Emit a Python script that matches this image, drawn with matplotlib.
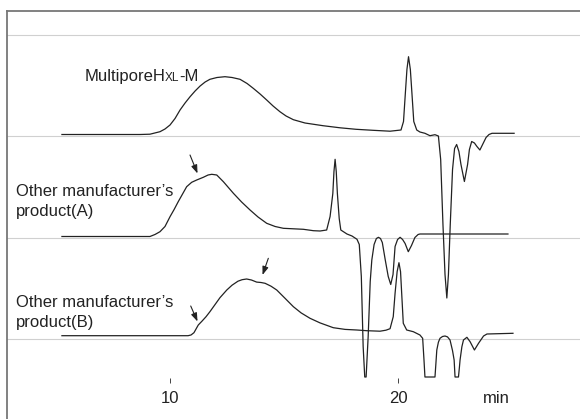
import numpy as np
import matplotlib
matplotlib.use('Agg')
import matplotlib.pyplot as plt

plt.rcParams['font.family'] = ['Liberation Sans', 'DejaVu Sans']

# retention time (min) and detector response (arbitrary units, baseline = 0)
t_hxl = [5.26, 8.68, 9.12, 9.56, 9.78, 10.00, 10.22, 10.44, 10.66, 10.88, 11.10, 11.32,
         11.54, 11.75, 12.06, 12.41, 12.72, 13.07, 13.38, 13.65, 13.95, 14.24, 14.52,
         14.82, 15.09, 15.41, 15.92, 16.71, 17.46, 18.16, 18.90, 19.65, 20.13, 20.24,
         20.32, 20.39, 20.46, 20.54, 20.61, 20.69, 20.82, 20.96, 21.18, 21.40, 21.62,
         21.77, 21.87, 21.97, 22.06, 22.14, 22.21, 22.29, 22.39, 22.48, 22.57, 22.67,
         22.76, 22.91, 23.05, 23.13, 23.23, 23.35, 23.46, 23.59, 23.73, 23.86, 23.99,
         24.12, 25.09]
y_hxl = [0, 0, 0.3, 2.8, 5.5, 9.5, 16, 24.5, 31.5, 37.8, 43.5, 48.5,
         52.5, 55.2, 57, 57.8, 57, 55.2, 51, 46.2, 40.5, 34.5, 28.5,
         22.8, 18.5, 14.8, 11.5, 8.8, 6.7, 5.2, 4.2, 3.3, 4.5, 13,
         41, 65, 77.8, 65, 41, 13, 4.5, 2.5, 1.2, -1.2, -0.2,
         -1.5, -25, -90, -140, -163.5, -140, -90, -35, -14, -10, -17,
         -30, -47, -30, -15, -7, -8.5, -12, -15.5, -9, -3, 0,
         1.2, 1.2]

t_a = [5.26, 8.82, 9.12, 9.34, 9.56, 9.78, 10.00, 10.18, 10.36, 10.55, 10.73, 10.95,
       11.17, 11.46, 11.67, 11.83, 12.05, 12.34, 12.78, 13.14, 13.51, 13.86, 14.24,
       14.61, 14.97, 15.85, 16.29, 16.58, 16.87, 17.02, 17.14, 17.19, 17.24, 17.29,
       17.34, 17.42, 17.49, 17.76, 17.98, 18.20, 18.30, 18.39, 18.47, 18.54, 18.60,
       18.69, 18.78, 18.85, 18.95, 19.05, 19.14, 19.23, 19.31, 19.44, 19.57, 19.68,
       19.78, 19.87, 19.98, 20.09, 20.20, 20.31, 20.45, 20.59, 20.74, 20.88, 20.96,
       24.82]
y_a = [0, 0, 0, 2, 4.8, 10, 19.8, 27, 34.8, 42.5, 49.8, 54.2,
       56.5, 59.2, 61.5, 62.2, 61.5, 54.8, 43.2, 34.5, 26.5, 19.5, 13.2,
       10, 8.2, 7.2, 5.8, 5.5, 6.5, 20, 43, 65, 77.2, 65,
       43, 18, 6.5, 2.5, 0.5, -2.8, -8, -40, -110, -140.5, -140.5,
       -100, -45, -23.5, -8, -2, -0.8, -2, -6, -23.5, -40, -48,
       -38, -10, -3, -0.8, -3, -7, -15.2, -9, -1, 2, 2.5,
       2.5]

t_b = [5.26, 10.79, 10.92, 11.05, 11.24, 11.40, 11.58, 11.75, 11.97, 12.19, 12.49, 12.72,
       12.98, 13.16, 13.36, 13.57, 13.80, 13.99, 14.17, 14.43, 14.68, 15.04, 15.41,
       15.75, 16.14, 16.58, 17.16, 17.68, 18.19, 18.63, 19.21, 19.47, 19.65, 19.79,
       19.87, 19.96, 20.04, 20.11, 20.16, 20.23, 20.38, 20.67, 20.96, 21.08, 21.14,
       21.18, 21.62, 21.66, 21.70, 21.77, 21.84, 21.95, 22.06, 22.17, 22.28, 22.39,
       22.46, 22.50, 22.65, 22.69, 22.72, 22.80, 22.87, 23.02, 23.16, 23.35, 23.53,
       23.75, 23.90, 25.04]
y_b = [0, 0, 0.7, 3, 10.7, 14.5, 19, 24, 31, 38, 45.7, 50.5,
       54.5, 56, 56.7, 55.7, 53.6, 53.2, 52.4, 49.5, 45.7, 37.5, 29,
       22.8, 17.4, 12.8, 8, 6.3, 5.7, 5, 4.5, 5.5, 7, 19,
       42.4, 64, 73, 64, 42.4, 12.4, 5.7, 4, 0.7, -2.6, -25,
       -41.3, -41.3, -28, -14.3, -6.5, -2.6, -0.8, -0.3, -1.2, -4.3, -15,
       -24.3, -41.3, -41.3, -32, -24.3, -11, -4.3, -1.6, -6, -14.3, -7.6,
       -0.3, 1.7, 2.4]

xtick_vals = [10, 20, 24.3]
xtick_text = ['10', '20', 'min']

label_a = ['Other manufacturer\u2019s', 'product(A)']
label_b = ['Other manufacturer\u2019s', 'product(B)']

# (tail, head) of the arrows, in (min, plot height)
arrows = [((10.877, 264), (11.206, 245.5)),
          ((10.908, 113), (11.206, 97.5)),
          ((14.311, 160.7), (14.057, 144))]

fig = plt.figure(figsize=(5.8, 4.19), dpi=100)
ax = fig.add_axes([7 / 580, 0, 573 / 580, 408 / 419])
ax.set_xlim(2.851, 27.98)
ax.set_ylim(0, 408)

# separator lines
for yy in [384, 283, 181, 80]:
    ax.axhline(yy, color='#d0d0d0', lw=0.8, zorder=1)

ink = '#222222'
ax.plot(t_hxl, np.array(y_hxl) + 284.5, color=ink, lw=0.9, zorder=3)
ax.plot(t_a, np.array(y_a) + 182.5, color=ink, lw=0.9, zorder=3)
ax.plot(t_b, np.array(y_b) + 83.3, color=ink, lw=0.9, zorder=3)

for tail, head in arrows:
    ax.annotate('', xy=head, xytext=tail,
                arrowprops=dict(arrowstyle='-|>,head_length=0.5,head_width=0.18',
                                mutation_scale=10, lw=0.8, color=ink,
                                shrinkA=0, shrinkB=0))

fs = 12
t1 = ax.text(6.24, 338, 'MultiporeH', fontsize=fs, color=ink, va='baseline', ha='left')
t2 = ax.annotate('XL', xy=(1, 0), xycoords=t1, fontsize=8.5, color=ink, va='bottom', ha='left')
ax.annotate('-M', xy=(1, 0), xycoords=t2, fontsize=fs, color=ink, va='bottom', ha='left')

for i, line in enumerate(label_a):
    ax.text(3.246, 223 - 20 * i, line, fontsize=fs, color=ink, va='baseline', ha='left')
for i, line in enumerate(label_b):
    ax.text(3.246, 112.3 - 20 * i, line, fontsize=fs, color=ink, va='baseline', ha='left')

for s in ['right', 'bottom']:
    ax.spines[s].set_visible(False)
for s in ['left', 'top']:
    ax.spines[s].set_color('#777777')
    ax.spines[s].set_linewidth(1.3)
ax.spines['bottom'].set_position(('axes', 36 / 408))

ax.set_yticks([])
ax.set_xticks(xtick_vals, xtick_text)
ax.tick_params(axis='x', direction='in', length=3.6, width=0.7, color='#444444',
               labelsize=fs, labelcolor=ink, pad=6)
ax.xaxis.get_major_ticks()[2].tick1line.set_visible(False)

fig.savefig('out.png', dpi=100)
